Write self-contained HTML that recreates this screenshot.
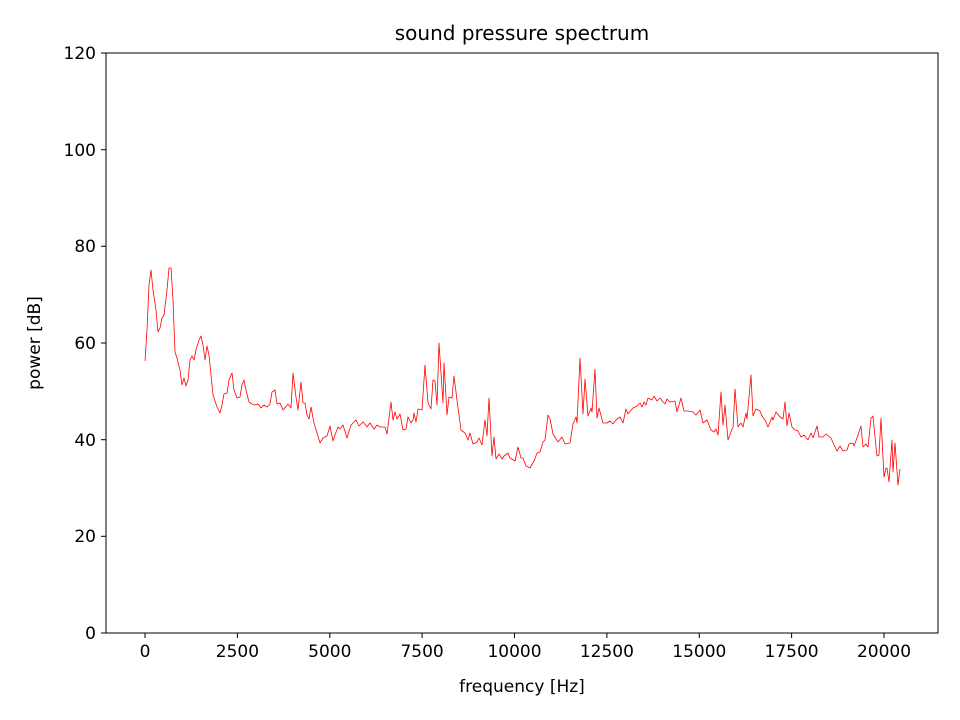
<!DOCTYPE html>
<html><head><style>body{margin:0;background:#fff}svg{display:block}text{font-family:"DejaVu Sans","Liberation Sans",sans-serif;fill:#000}</style></head><body>
<svg width="960" height="720" viewBox="0 0 960 720" xmlns="http://www.w3.org/2000/svg">
<rect width="960" height="720" fill="#fff"/>
<polyline fill="none" stroke="#ff0000" stroke-width="0.8" stroke-linejoin="round" points="145,361 147,330 149,285 151,270 153,290 156,310 158,332 160,328 162,318 164,315 167,290 169,268 171,268 173,300 175,352 177,358 180,370 182,385 184,378 186,386 188,380 190,360 192,356 194,360 196,350 199,340 201,336 203,345 205,360 207,346 209,355 211,375 213,395 217,407 220,413 222,405 224,394 227,393 229,380 232,373 234,390 237,398 240,397 242,385 244,380 246,390 249,402 252,404 255,405 258,404 261,408 264,405 267,407 270,404 272,392 275,390 277,404 280,403 283,410 288,404 291,408 293,373 296,397 298,410 301,382 303,403 305,403 307,415 309,419 311,407 314,423 317,433 320,443 323,438 327,436 330,426 333,441 335,435 338,427 340,429 343,425 347,438 351,425 356,420 359,426 363,422 367,427 370,423 374,429 377,425 380,427 385,427 387,434 391,402 393,420 395,412 397,419 400,414 403,430 406,429 408,417 411,423 413,420 414,413 416,422 418,409 422,410 425,365 428,403 431,409 433,380 435,381 437,405 439,343 443,403 444,363 447,415 449,397 452,398 454,376 457,400 461,430 465,433 468,440 470,433 473,444 477,442 479,438 482,445 485,420 487,436 489,398 492,456 494,437 496,459 499,454 502,459 504,456 508,453 510,458 515,461 518,447 521,458 523,458 526,466 530,468 534,461 537,453 540,452 543,442 545,440 548,415 550,419 553,434 558,442 562,437 565,444 570,443 573,424 576,417 577,423 580,358 583,414 585,379 588,416 591,408 592,412 595,369 597,418 599,408 603,423 607,423 610,421 613,424 616,420 620,417 623,423 626,409 628,414 633,408 637,406 640,403 642,407 644,402 646,405 648,398 652,400 654,396 657,401 660,398 663,402 665,404 667,399 670,402 675,401 677,412 681,398 684,411 688,411 693,412 696,415 700,410 703,423 707,420 711,430 714,432 716,429 718,435 721,392 723,425 725,405 728,440 732,429 733,428 735,389 738,427 741,423 743,427 746,413 747,419 751,375 753,416 756,409 760,411 762,416 765,420 768,427 772,417 773,420 776,412 780,417 783,419 785,402 787,426 789,413 792,427 795,430 798,431 801,437 804,435 808,440 811,433 813,438 817,426 819,437 823,437 826,434 831,438 834,445 837,451 840,446 843,451 847,450 849,444 853,443 854,446 857,438 861,426 863,447 866,444 868,447 871,418 873,416 875,437 877,456 879,455 881,418 884,477 886,468 887,468 889,482 892,440 893,472 895,443 898,485 900,469"/>
<rect x="106" y="53" width="832" height="580" fill="none" stroke="#000" stroke-width="1"/>
<g stroke="#000" stroke-width="1">
<line x1="145" y1="633" x2="145" y2="638"/><line x1="237.4" y1="633" x2="237.4" y2="638"/><line x1="329.8" y1="633" x2="329.8" y2="638"/><line x1="422.1" y1="633" x2="422.1" y2="638"/><line x1="514.5" y1="633" x2="514.5" y2="638"/><line x1="606.9" y1="633" x2="606.9" y2="638"/><line x1="699.3" y1="633" x2="699.3" y2="638"/><line x1="791.6" y1="633" x2="791.6" y2="638"/><line x1="884" y1="633" x2="884" y2="638"/>
<line x1="101" y1="633" x2="106" y2="633"/><line x1="101" y1="536.3" x2="106" y2="536.3"/><line x1="101" y1="439.7" x2="106" y2="439.7"/><line x1="101" y1="343" x2="106" y2="343"/><line x1="101" y1="246.3" x2="106" y2="246.3"/><line x1="101" y1="149.7" x2="106" y2="149.7"/><line x1="101" y1="53" x2="106" y2="53"/>
</g>
<g font-size="17" text-anchor="middle">
<text x="145" y="657">0</text><text x="237.4" y="657">2500</text><text x="329.8" y="657">5000</text><text x="422.1" y="657">7500</text><text x="514.5" y="657">10000</text><text x="606.9" y="657">12500</text><text x="699.3" y="657">15000</text><text x="791.6" y="657">17500</text><text x="884" y="657">20000</text>
</g>
<g font-size="17" text-anchor="end">
<text x="96" y="639">0</text><text x="96" y="542">20</text><text x="96" y="446">40</text><text x="96" y="349">60</text><text x="96" y="252">80</text><text x="96" y="156">100</text><text x="96" y="59">120</text>
</g>
<text x="522" y="692" font-size="17" text-anchor="middle">frequency [Hz]</text>
<text x="40" y="343" font-size="17" text-anchor="middle" transform="rotate(-90 40 343)">power [dB]</text>
<text x="522" y="40" font-size="20" text-anchor="middle">sound pressure spectrum</text>
</svg>
</body></html>
